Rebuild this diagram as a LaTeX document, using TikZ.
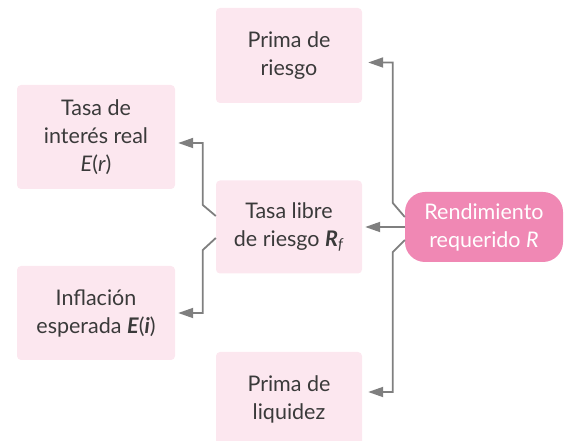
\documentclass[tikz,border=0pt]{standalone}
\usepackage{fontspec}
\setmainfont{Lato}
\usetikzlibrary{arrows.meta}
\definecolor{boxpink}{HTML}{FCE7EF}
\definecolor{rosa}{HTML}{F088B4}
\definecolor{linegray}{HTML}{7F7F7F}
\definecolor{textgray}{HTML}{3A3A3A}
\begin{document}
\begin{tikzpicture}[x=1pt,y=1pt,
    font=\fontsize{21.5}{28}\selectfont,
    box/.style={fill=boxpink,rounded corners=4pt,inner sep=0pt,
      align=center,text=textgray,minimum height=94pt},
    mainbox/.style={fill=rosa,rounded corners=20pt,inner sep=0pt,
      align=center,text=white,minimum width=158pt,minimum height=70pt},
    link/.style={draw=linegray,line width=1.8pt,
      -{Triangle[length=15pt,width=10pt]},shorten >=3pt}]
    \useasboundingbox (0,0) rectangle (567,441);
    % boxes
    \node[box,minimum width=146pt,minimum height=95pt] (riesgoP) at (289,385.5)
      {Prima de\\riesgo};
    \node[box,minimum width=158pt,minimum height=104pt] (interes) at (96,304)
      {Tasa de\\interés real\\\textit{E}(\textit{r})};
    \node[box,minimum width=146pt,minimum height=93pt] (libre) at (289,214)
      {Tasa libre\\de riesgo \textbf{\textit{R}}\textsubscript{\textit{f}}};
    \node[box,minimum width=158pt] (inflacion) at (96,128)
      {Inflación\\esperada \textbf{\textit{E}}(\textbf{\textit{i}})};
    \node[box,minimum width=146pt] (liquidez) at (289,42)
      {Prima de\\liquidez};
    \node[mainbox] (rend) at (484,214) {Rendimiento\\requerido \textit{R}};
    % connectors
    \draw[link] (rend.west) -- (libre.east);
    \draw[link] ([yshift=10pt]rend.west) -- ++(-12,14)
      |- ([yshift=-7pt,xshift=3pt]riesgoP.east);
    \draw[link] ([yshift=-13pt]rend.west) -- ++(-12,-12)
      |- ([yshift=7pt,xshift=3pt]liquidez.east);
    \draw[link] ([yshift=11pt]libre.west) -- ++(-13,11)
      |- ([yshift=-6pt]interes.east);
    \draw[link] ([yshift=-11pt]libre.west) -- ++(-13,-12)
      |- (inflacion.east);
\end{tikzpicture}
\end{document}
